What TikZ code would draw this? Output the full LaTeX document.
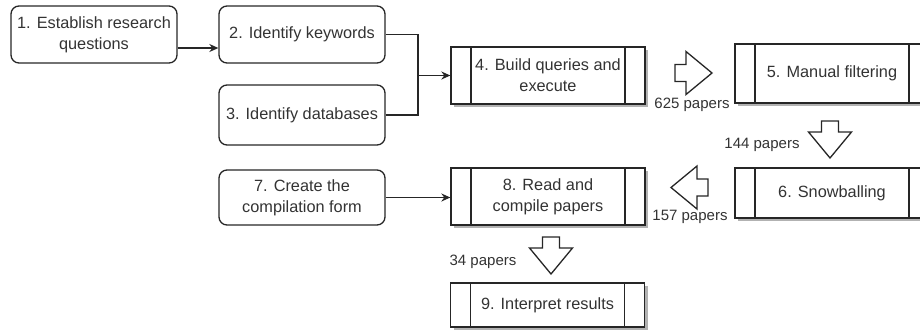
\documentclass[tikz,border=0pt]{standalone}
\usepackage{fontspec}
\setmainfont{Liberation Sans}
\usetikzlibrary{arrows.meta,shadows,calc}

\tikzset{
  base/.style={draw=black!85, line width=1.3pt, text=black!80,
    font=\fontsize{16.3}{21}\selectfont, align=center, inner sep=0pt},
  roundbox/.style={base, rounded corners=8pt, minimum width=166pt, minimum height=57pt},
  procbox/.style={base, fill=white, minimum width=194pt, minimum height=57pt,
    drop shadow={shadow xshift=3pt, shadow yshift=-3pt, fill=black!30, opacity=1},
    path picture={
      \draw[draw=black!85, line width=1.3pt]
        ([xshift=20pt]path picture bounding box.north west) -- ([xshift=20pt]path picture bounding box.south west)
        ([xshift=-20pt]path picture bounding box.north east) -- ([xshift=-20pt]path picture bounding box.south east);
    }},
  count/.style={text=black!80, font=\fontsize{15}{17}\selectfont, inner sep=0pt},
  link/.style={draw=black!85, line width=1.3pt, -{Stealth[length=9pt,width=8pt]}},
  fatarrow/.pic={
    \draw[draw=black!85, line width=1.3pt, fill=white]
      (0,-8.5) -- (11,-8.5) -- (11,-21.5) -- (37,0) -- (11,21.5) -- (11,8.5) -- (0,8.5) -- cycle;
  }
}

\begin{document}
\begin{tikzpicture}[x=1pt, y=-1pt]
  \useasboundingbox (0,0) rectangle (920,333);

  % planning
  \node[roundbox] (s1) at (94,34.5) {1. Establish research\\questions};
  \node[roundbox] (s2) at (302,34.5) {2. Identify keywords};
  \node[roundbox, minimum height=60pt] (s3) at (302,115) {3. Identify databases};
  \node[roundbox, minimum height=55pt] (s7) at (302,197.5) {7. Create the\\compilation form};

  % search and selection
  \node[procbox] (s4) at (548,75.5) {4. Build queries and\\execute};
  \node[procbox, minimum height=59pt] (s5) at (832,73.5) {5. Manual filtering};
  \node[procbox, minimum height=50pt] (s6) at (832,193) {6. Snowballing};
  \node[procbox] (s8) at (548,196.5) {8. Read and\\compile papers};
  \node[procbox, minimum height=44pt] (s9) at (547.5,305) {9. Interpret results};

  % paper counts
  \node[count] (c625) at (692,105) {625 papers};
  \node[count] (c144) at (762,145) {144 papers};
  \node[count] (c157) at (690,217) {157 papers};
  \node[count] (c34) at (483,262) {34 papers};

  \pic at (675,73) {fatarrow};
  \pic[rotate=-90] at (830,121) {fatarrow};
  \pic[rotate=180] at (708,187.5) {fatarrow};
  \pic[rotate=-90] at (551,237) {fatarrow};

  \coordinate (t1) at ($(s1.east)+(0,13.5)$);
  \coordinate (j) at (418,75.5);
  \draw[link] (t1) -- (t1 -| s2.west);
  \draw[draw=black!85, line width=1.3pt] (s2.east) -| (j);
  \draw[draw=black!85, line width=1.3pt] (s3.east) -| (j);
  \draw[link] (j) -- (s4.west);
  \draw[link] (s7.east) -- (s7.east -| s8.west);
\end{tikzpicture}
\end{document}
